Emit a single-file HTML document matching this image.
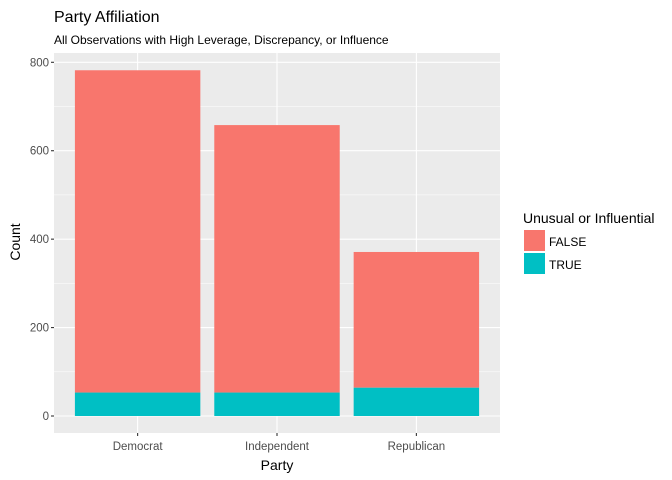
<!DOCTYPE html>
<html><head><meta charset="utf-8"><style>body{margin:0;background:#fff}svg{display:block}text{font-family:"Liberation Sans",Arial,sans-serif}</style></head>
<body>
<svg id="chart" width="672" height="480" viewBox="0 0 672 480" xmlns="http://www.w3.org/2000/svg">
<rect width="672" height="480" fill="#fff"/>
<text x="54" y="22" font-size="16" fill="#000">Party Affiliation</text>
<text x="54" y="44" font-size="12" fill="#000">All Observations with High Leverage, Discrepancy, or Influence</text>
<g id="panel"></g>
<text x="277" y="470" font-size="14" text-anchor="middle">Party</text>
<text transform="translate(20,242) rotate(-90)" font-size="14" text-anchor="middle">Count</text>
<g>
<text x="523" y="223" font-size="14">Unusual or Influential</text>
<rect x="524" y="230" width="21" height="21" fill="#F8766D"/>
<text x="549" y="246" font-size="12">FALSE</text>
<rect x="524" y="253" width="21" height="21" fill="#00BFC4"/>
<text x="549" y="269" font-size="12">TRUE</text>
</g>
</svg>
<script>
const categories = ["Democrat","Independent","Republican"];
const trueCounts = [53, 53, 64];
const totalCounts = [782, 658, 371];
const yTicks = [0,200,400,600,800];
const NS="http://www.w3.org/2000/svg";
const L=54,R=500,T=53,B=433;
const unit=(R-L)/(categories.length-1+1.2);
function x(i){return L+(0.6+i)*unit;}
function y(v){return 416 - v*(416-62.3)/800;}
const g=document.getElementById('panel');
const svg=document.getElementById('chart');
function el(tag,a,p){const e=document.createElementNS(NS,tag);for(const k in a)e.setAttribute(k,a[k]);(p||g).appendChild(e);return e;}
const bg=el('rect',{x:L,y:T,width:R-L,height:B-T,fill:'#EBEBEB'});


for(let k=0;k<yTicks.length-1;k++){const v=(yTicks[k]+yTicks[k+1])/2;const m=el('line',{x1:L,x2:R,y1:y(v),y2:y(v),stroke:'#fff','stroke-width':0.5});

}
yTicks.forEach(v=>{const ln=el('line',{x1:L,x2:R,y1:y(v),y2:y(v),stroke:'#fff','stroke-width':1.1});


const tk=el('line',{x1:L-3,x2:L,y1:y(v),y2:y(v),stroke:'#333','stroke-width':1.1},svg);


const t=el('text',{x:L-5,y:y(v)+4,'font-size':11.5,fill:'#4D4D4D','text-anchor':'end'},svg);t.textContent=v;

});
categories.forEach((c,i)=>{const cx=x(i);
const gl=el('line',{x1:cx,x2:cx,y1:T,y2:B,stroke:'#fff','stroke-width':1.1});

});
categories.forEach((c,i)=>{const cx=x(i),w=0.9*unit;
const f=el('rect',{x:cx-w/2,y:y(totalCounts[i]),width:w,height:y(trueCounts[i])-y(totalCounts[i]),fill:'#F8766D'});


const tr=el('rect',{x:cx-w/2,y:y(trueCounts[i]),width:w,height:y(0)-y(trueCounts[i]),fill:'#00BFC4'});


const tk=el('line',{x1:cx,x2:cx,y1:B,y2:B+3,stroke:'#333','stroke-width':1.1},svg);


const t=el('text',{x:cx,y:B+17,'font-size':11.5,fill:'#4D4D4D','text-anchor':'middle'},svg);t.textContent=c;

});
</script>
</body></html>
